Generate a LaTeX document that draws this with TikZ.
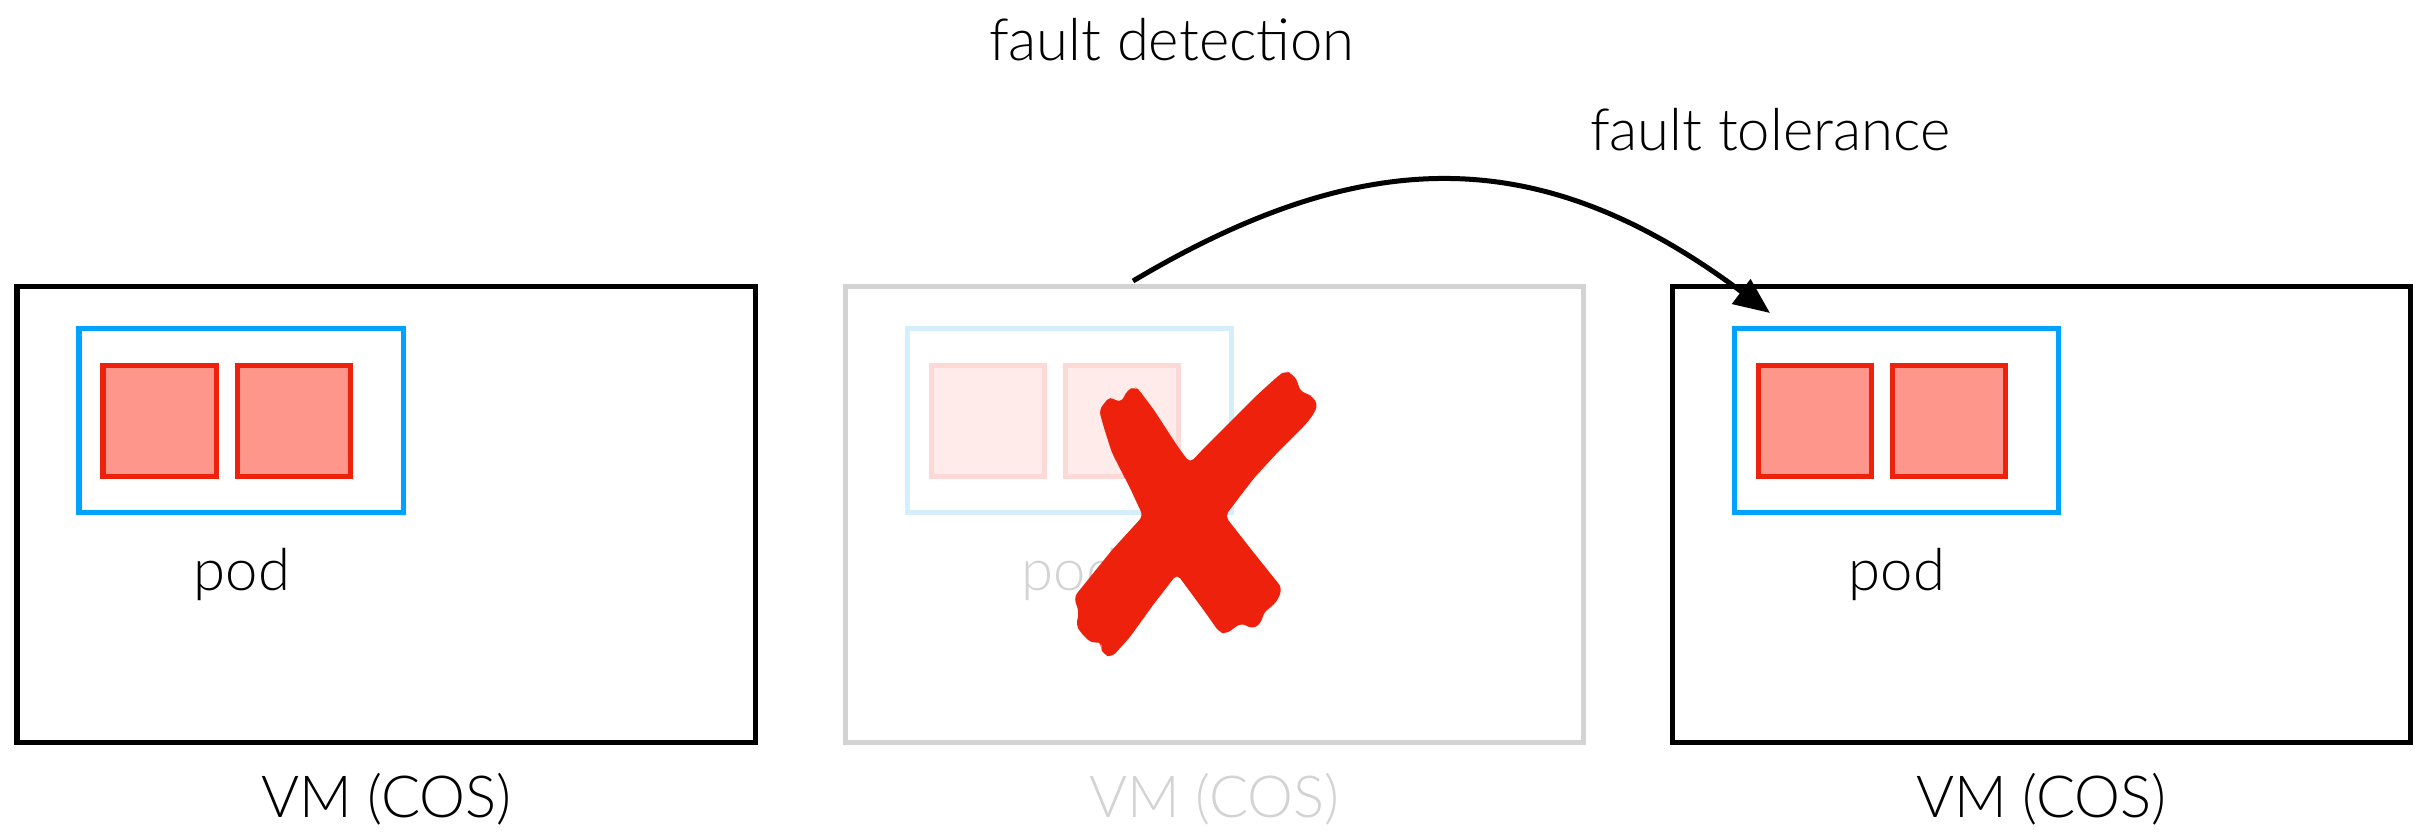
\documentclass[tikz,border=0pt]{standalone}
\usepackage{fontspec}
\setmainfont{Lato Light}
\usetikzlibrary{arrows.meta}
\definecolor{vmgray}{HTML}{D3D3D3}
\definecolor{podblue}{HTML}{00A2FF}
\definecolor{podbluefade}{HTML}{D4EEFD}
\definecolor{ctred}{HTML}{EE220C}
\definecolor{ctfill}{HTML}{FF968C}
\definecolor{ctredfade}{HTML}{FCD9D6}
\definecolor{ctfillfade}{HTML}{FFECEA}
\definecolor{xred}{HTML}{EE220C}
\tikzset{
  vmbox/.style={draw=black, line width=0.05cm, minimum width=7.38cm, minimum height=4.56cm, anchor=north west, inner sep=0pt, outer sep=0pt},
  vmfade/.style={vmbox, draw=vmgray},
  podbox/.style={draw=podblue, line width=0.05cm, minimum width=3.24cm, minimum height=1.84cm, anchor=north west, inner sep=0pt, outer sep=0pt},
  podfade/.style={podbox, draw=podbluefade},
  ctbox/.style={draw=ctred, fill=ctfill, line width=0.05cm, minimum width=1.13cm, minimum height=1.11cm, anchor=north west, inner sep=0pt, outer sep=0pt},
  ctfade/.style={ctbox, draw=ctredfade, fill=ctfillfade},
  lbltext/.style={font=\fontsize{16.5}{20}\selectfont, inner sep=0pt, outer sep=0pt},
  fadetext/.style={lbltext, text=vmgray},
  arrowline/.style={line width=0.05cm, -{Triangle[length=0.36cm,width=0.3cm]}},
}
\begin{document}
\begin{tikzpicture}[x=0.01cm, y=-0.01cm]
\useasboundingbox (0,0) rectangle (2424,833);
% left VM
\node[vmbox] (vmA) at (17,286) {};
\node[podbox] (podA) at (79,328) {};
\node[ctbox] (ctA1) at (103,365) {};
\node[ctbox] (ctA2) at (237,365) {};
\node[lbltext, anchor=base] (podlA) at (242,590) {pod};
\node[lbltext, anchor=base] (vmlA) at (386.5,817) {VM (COS)};
% middle VM (failed)
\node[vmfade] (vmB) at (845,286) {};
\node[podfade] (podB) at (907,328) {};
\node[ctfade] (ctB1) at (931,365) {};
\node[ctfade] (ctB2) at (1065,365) {};
\node[fadetext, anchor=base] (podlB) at (1070,590) {pod};
\node[fadetext, anchor=base] (vmlB) at (1214.5,817) {VM (COS)};
% right VM
\node[vmbox] (vmC) at (1672,286) {};
\node[podbox] (podC) at (1734,328) {};
\node[ctbox] (ctC1) at (1758,365) {};
\node[ctbox] (ctC2) at (1892,365) {};
\node[lbltext, anchor=base] (podlC) at (1897,590) {pod};
\node[lbltext, anchor=base] (vmlC) at (2041.5,817) {VM (COS)};
% red cross
\fill[xred, rounded corners=1.5] (1099,410) -- (1110,396) -- (1119,403) -- (1124,398) -- (1127,390) -- (1135,387) -- (1139,390)
  -- (1154,410) -- (1178,447) -- (1190,463) -- (1204,448) -- (1230,422) -- (1255,397) -- (1278,376) -- (1285,371)
  -- (1291,373) -- (1298,381) -- (1299,390) -- (1307,394) -- (1312,396) -- (1318,405) -- (1313,415) -- (1306,424)
  -- (1278,452) -- (1254,478) -- (1225,516) -- (1254,553) -- (1282,588) -- (1278,600) -- (1270,608) -- (1263,613)
  -- (1262,622) -- (1253,629) -- (1241,623) -- (1226,634) -- (1219,632) -- (1205,612) -- (1177,574) -- (1153,605)
  -- (1130,637) -- (1112,657) -- (1104,655) -- (1100,647) -- (1102,642) -- (1091,643) -- (1081,633) -- (1076,625)
  -- (1079,613) -- (1074,597) -- (1112,550) -- (1143,516) -- (1130,488) -- (1112,453) -- (1104,428) -- cycle;
% labels on top
\node[lbltext, anchor=base west] (fdet) at (989,60) {fault detection};
\node[lbltext, anchor=base west] (ftol) at (1590,150) {fault tolerance};
% arrow
\coordinate (arrS) at (1133,281);
\coordinate (arrE) at (1770,313);
\draw[arrowline] (arrS) .. controls (1370,140) and (1545,145) .. (arrE);
\end{tikzpicture}
\end{document}
